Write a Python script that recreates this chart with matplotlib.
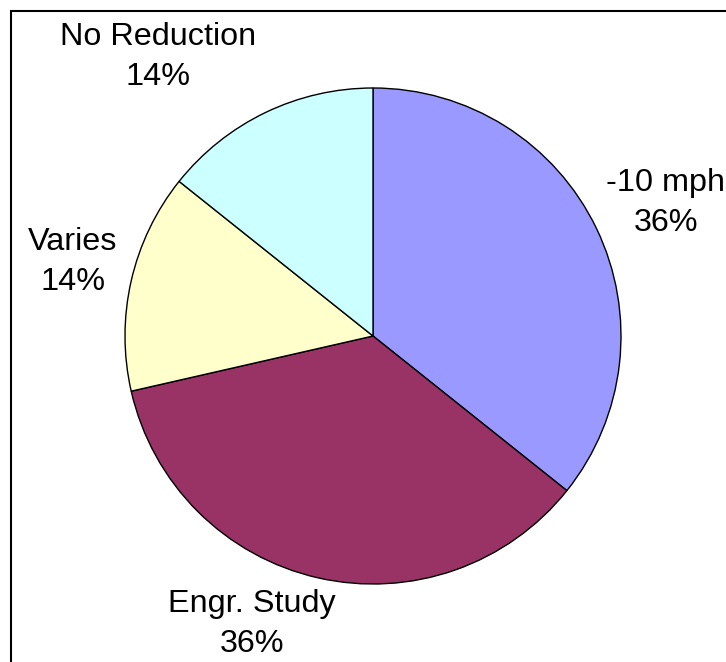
import matplotlib.pyplot as plt
from matplotlib.patches import Rectangle

categories = ['-10 mph', 'Engr. Study', 'Varies', 'No Reduction']
counts = [5, 5, 2, 2]
colors = ['#9999FF', '#993366', '#FFFFCC', '#CCFFFF']
# label block centres (data units, pie radius = 1)
label_pos = [(1.181, 0.536), (-0.488, -1.161), (-1.210, 0.298), (-0.867, 1.125)]

W, H = 726, 662
fig = plt.figure(figsize=(W / 100, H / 100), dpi=100)
plt.rcParams['font.family'] = ['Liberation Sans', 'DejaVu Sans']

cx, cy, r = 373, 336, 248
ax = fig.add_axes([(cx - r) / W, (H - cy - r) / H, 2 * r / W, 2 * r / H])
wedges, _ = ax.pie(counts, colors=colors, startangle=90, counterclock=False,
                   radius=1, wedgeprops=dict(edgecolor='black', linewidth=1.0))
ax.set_xlim(-1, 1)
ax.set_ylim(-1, 1)
ax.set_aspect('equal')
ax.axis('off')

total = sum(counts)
for name, c, (x, y) in zip(categories, counts, label_pos):
    ax.text(x, y, f'{name}\n{round(100 * c / total)}%', ha='center', va='center',
            fontsize=23.3, linespacing=1.42, clip_on=False)

# chart frame (right and bottom sides fall outside the image)
fig.patches.append(Rectangle((10.5 / W, -0.1), 1.2, 1.1 - 10.5 / H,
                             transform=fig.transFigure, fill=False,
                             edgecolor='black', linewidth=1.5))

fig.savefig('out.png', dpi=100)
